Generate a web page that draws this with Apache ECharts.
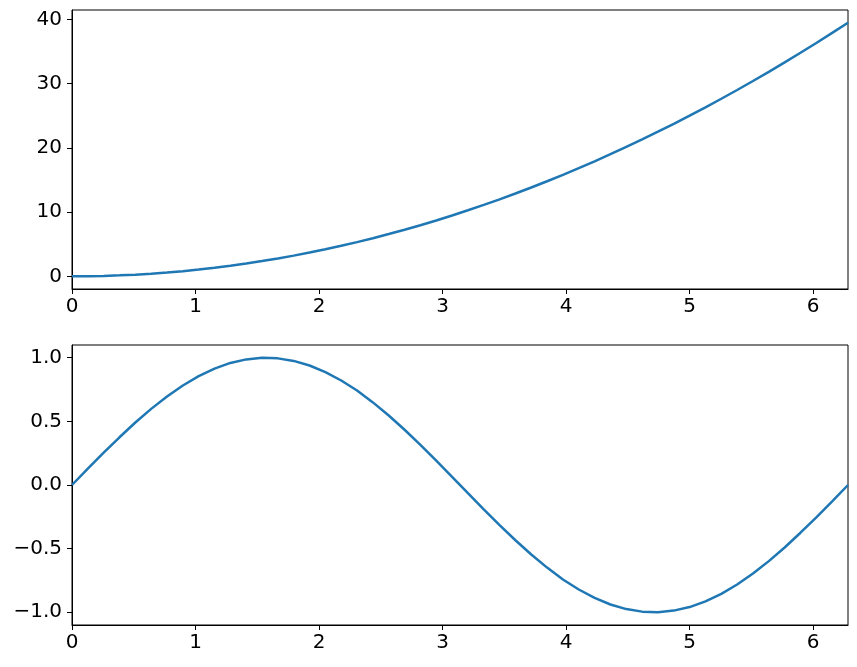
<!DOCTYPE html>
<html>
<head>
<meta charset="utf-8">
<script src="https://cdn.jsdelivr.net/npm/echarts@6/dist/echarts.min.js"></script>
<style>
  html, body { margin: 0; padding: 0; background: #fff; }
  #chart1 { width: 857px; height: 667px; }
</style>
</head>
<body>
<div id="chart1"></div>
<script>
// x samples (0 .. 2pi)
var xs = [0, 0.1282, 0.2565, 0.3847, 0.5129, 0.6411, 0.7694, 0.8976, 1.0258, 1.1541,
    1.2823, 1.4105, 1.5387, 1.6670, 1.7952, 1.9234, 2.0517, 2.1799, 2.3081, 2.4363,
    2.5646, 2.6928, 2.8210, 2.9493, 3.0775, 3.2057, 3.3339, 3.4622, 3.5904, 3.7186,
    3.8468, 3.9751, 4.1033, 4.2315, 4.3598, 4.4880, 4.6162, 4.7444, 4.8727, 5.0009,
    5.1291, 5.2574, 5.3856, 5.5138, 5.6420, 5.7703, 5.8985, 6.0267, 6.1550, 6.2832];
// top panel
var yTop = [0, 0.016, 0.066, 0.148, 0.263, 0.411, 0.592, 0.806, 1.052, 1.332,
    1.644, 1.990, 2.368, 2.779, 3.223, 3.700, 4.209, 4.752, 5.327, 5.936,
    6.577, 7.251, 7.958, 8.698, 9.471, 10.277, 11.115, 11.987, 12.891, 13.828,
    14.798, 15.801, 16.837, 17.906, 19.008, 20.142, 21.309, 22.509, 23.743, 25.009,
    26.308, 27.640, 29.005, 30.402, 31.832, 33.296, 34.792, 36.321, 37.884, 39.478];
// bottom panel
var yBottom = [0, 0.128, 0.254, 0.375, 0.491, 0.598, 0.696, 0.782, 0.855, 0.914,
    0.959, 0.987, 1.000, 0.995, 0.975, 0.939, 0.887, 0.821, 0.742, 0.649,
    0.546, 0.434, 0.315, 0.191, 0.064, -0.064, -0.191, -0.315, -0.434, -0.546,
    -0.649, -0.742, -0.821, -0.887, -0.939, -0.975, -0.995, -1.000, -0.987, -0.959,
    -0.914, -0.855, -0.782, -0.696, -0.598, -0.491, -0.375, -0.254, -0.128, 0];

var xTicks = [0, 1, 2, 3, 4, 5, 6];
var yTopTicks = [0, 10, 20, 30, 40];
var yBottomTicks = [-1.0, -0.5, 0.0, 0.5, 1.0];

function pairs(x, y) {
    var out = [];
    for (var i = 0; i < x.length; i++) out.push([x[i], y[i]]);
    return out;
}

var font = 'DejaVu Sans';
var fontSize = 20;

function xAxisCfg(idx) {
    return {
        type: 'value',
        gridIndex: idx,
        min: 0,
        max: 2 * Math.PI,
        splitLine: { show: false },
        axisLine: { show: true, onZero: false, lineStyle: { color: '#000', width: 1 } },
        axisTick: { show: true, inside: false, length: 5, customValues: xTicks, lineStyle: { color: '#000' } },
        axisLabel: {
            customValues: xTicks, margin: 8, color: '#000',
            fontFamily: font, fontSize: fontSize,
            formatter: function (v) { return String(Math.round(v)); }
        }
    };
}

function yAxisCfg(idx, lo, hi, ticks, fmt) {
    return {
        type: 'value',
        gridIndex: idx,
        min: lo,
        max: hi,
        splitLine: { show: false },
        axisLine: { show: true, onZero: false, lineStyle: { color: '#000', width: 1 } },
        axisTick: { show: true, inside: false, length: 5, customValues: ticks, lineStyle: { color: '#000' } },
        axisLabel: {
            customValues: ticks, margin: 10, color: '#000',
            fontFamily: font, fontSize: fontSize,
            formatter: fmt
        }
    };
}

var Chart1 = echarts.init(document.getElementById('chart1'));

var option1 = {
    animation: false,
    backgroundColor: '#fff',
    grid: [
        { left: 72, top: 10, width: 776, height: 279, show: true, borderColor: '#000', borderWidth: 1, backgroundColor: 'transparent' },
        { left: 72, top: 345, width: 776, height: 280, show: true, borderColor: '#000', borderWidth: 1, backgroundColor: 'transparent' }
    ],
    xAxis: [xAxisCfg(0), xAxisCfg(1)],
    yAxis: [
        yAxisCfg(0, -1.974, 41.452, yTopTicks, function (v) { return String(Math.round(v)); }),
        yAxisCfg(1, -1.1, 1.1, yBottomTicks, function (v) { return v.toFixed(1).replace('-', '\u2212'); })
    ],
    series: [
        {
            type: 'line', xAxisIndex: 0, yAxisIndex: 0,
            showSymbol: false, clip: true,
            lineStyle: { color: '#1f77b4', width: 2.5 },
            data: pairs(xs, yTop)
        },
        {
            type: 'line', xAxisIndex: 1, yAxisIndex: 1,
            showSymbol: false, clip: true,
            lineStyle: { color: '#1f77b4', width: 2.5 },
            data: pairs(xs, yBottom)
        }
    ]
};

Chart1.setOption(option1);
</script>
</body>
</html>
